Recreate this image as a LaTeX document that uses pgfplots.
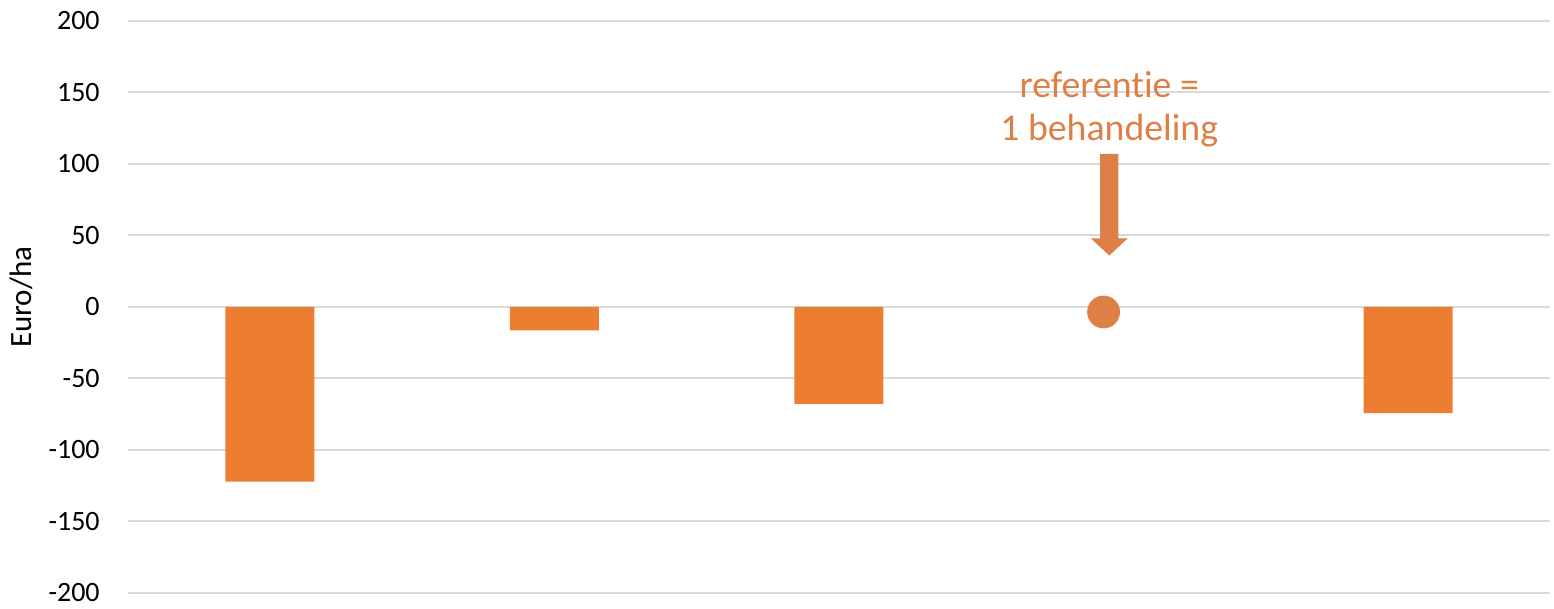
\documentclass[border=0pt]{standalone}
\usepackage{fontspec}
\setmainfont{Carlito}[Ligatures=NoCommon]
\usepackage{pgfplots}
\pgfplotsset{compat=1.18}

\definecolor{barc}{HTML}{ED7D31}
\definecolor{refc}{RGB}{222,128,70}
\definecolor{gridc}{HTML}{D9D9D9}

\begin{document}
\begin{tikzpicture}
\begin{axis}[
    scale only axis,
    width=711.25pt, height=286pt,
    xmin=-0.5, xmax=4.5,
    ymin=-200, ymax=200,
    ytick={-200,-150,...,200},
    xtick=\empty,
    ymajorgrids,
    grid style={gridc, line width=1pt},
    axis line style={draw=none},
    major tick length=0pt,
    tick label style={font=\fontsize{14}{16}\selectfont},
    /pgf/number format/assume math mode=true,
    yticklabel style={anchor=east, xshift=-10.5pt},
    ylabel={Euro/ha},
    ylabel style={at={(axis description cs:-0.075,0.517)}, anchor=center,
                  font=\fontsize{15.5}{17}\selectfont},
]
\addplot[ybar, bar width=44.5pt, fill=barc, draw=none]
    coordinates {(0,-122.2) (1,-16.3) (2,-67.7) (4,-74.2)};
% reference point
\addplot[only marks, mark=*, mark size=8pt, color=refc]
    coordinates {(2.93,-3.5)};
% arrow
\addplot[fill=refc, draw=none]
    coordinates {(2.918,107) (2.982,107) (2.982,48) (3.015,48) (2.95,36)
                 (2.885,48) (2.918,48) (2.918,107)};
\node[refc, align=center, font=\fontsize{18.9}{21.5}\selectfont]
    at (axis cs:2.95,138) {referentie =\\1 behandeling};
\coordinate (bl) at (rel axis cs:-0.0898,-0.0175);
\coordinate (tr) at (rel axis cs:1.00264,1.0367);
\end{axis}
\path (bl) rectangle (tr);
\end{tikzpicture}
\end{document}
